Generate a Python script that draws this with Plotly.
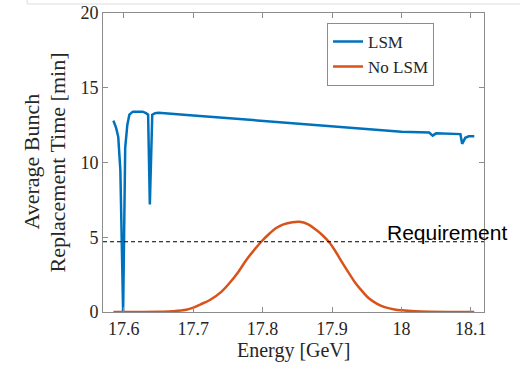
import plotly.graph_objects as go

# LSM series
lsm_energy = [17.585, 17.589, 17.592, 17.595, 17.599, 17.602, 17.605, 17.608, 17.613,
              17.620, 17.627, 17.632, 17.635, 17.6375, 17.641, 17.645, 17.650,
              17.700, 17.800, 17.900, 18.000, 18.040, 18.045, 18.050, 18.080,
              18.085, 18.0875, 18.092, 18.097, 18.105]
lsm_time = [12.8, 12.3, 11.7, 9.5, 0.0, 11.0, 12.5, 13.2, 13.4,
            13.42, 13.4, 13.3, 13.2, 7.2, 13.2, 13.3, 13.32,
            13.15, 12.8, 12.4, 12.05, 12.0, 11.8, 11.95, 11.9,
            11.9, 11.25, 11.65, 11.75, 11.75]

# No LSM series
nolsm_energy = [17.585, 17.62, 17.65, 17.67, 17.69, 17.70, 17.71, 17.724, 17.74, 17.752,
                17.765, 17.776, 17.787, 17.798, 17.81, 17.819, 17.83, 17.843, 17.853,
                17.865, 17.877, 17.887, 17.896, 17.906, 17.915, 17.925, 17.934, 17.944,
                17.953, 17.965, 17.977, 17.99, 18.001, 18.02, 18.04, 18.07, 18.105]
nolsm_time = [0.0, 0.0, 0.01, 0.05, 0.15, 0.29, 0.50, 0.80, 1.33, 1.92,
              2.68, 3.45, 4.1, 4.70, 5.25, 5.60, 5.86, 6.0, 6.03,
              5.88, 5.50, 5.1, 4.66, 3.98, 3.28, 2.55, 1.92, 1.36,
              0.92, 0.55, 0.31, 0.17, 0.11, 0.05, 0.02, 0.0, 0.0]

requirement = 4.7
x_ticks = [17.6, 17.7, 17.8, 17.9, 18.0, 18.1]
x_ticklabels = ["17.6", "17.7", "17.8", "17.9", "18", "18.1"]
y_ticks = [0, 5, 10, 15, 20]

serif = "Liberation Serif, Times New Roman, serif"
txt = "#262626"

fig = go.Figure()
fig.add_trace(go.Scatter(x=lsm_energy, y=lsm_time, mode="lines", name="LSM",
                         line=dict(color="#0072BD", width=2.5)))
fig.add_trace(go.Scatter(x=nolsm_energy, y=nolsm_time, mode="lines", name="No LSM",
                         line=dict(color="#D95319", width=2.5, shape="spline", smoothing=1.0)))

fig.add_shape(type="line", xref="paper", x0=0, x1=1, yref="y", y0=requirement, y1=requirement,
              line=dict(color="black", width=1, dash="4px,3px"), layer="above")
# screenshot frame line at top
fig.add_shape(type="line", xref="paper", yref="paper", x0=-0.199, x1=1.094, y0=1.030, y1=1.030,
              line=dict(color="#dcdcdc", width=1))
fig.add_shape(type="line", xref="paper", yref="paper", x0=-0.199, x1=-0.199, y0=1.030, y1=1.05,
              line=dict(color="#dcdcdc", width=1))

fig.add_annotation(text="Requirement", xref="paper", x=0.740, xanchor="left",
                   yref="y", y=requirement, yanchor="bottom", yshift=-4, showarrow=False,
                   font=dict(family="Liberation Sans, Arial, sans-serif", size=21, color="black"))

fig.add_annotation(text="Average Bunch", xref="paper", x=-0.1864,
                   xanchor="center", yref="paper", y=0.503, yanchor="middle", textangle=-90,
                   showarrow=False, font=dict(family=serif, size=22, color=txt))
fig.add_annotation(text="Replacement Time [min]", xref="paper", x=-0.1207,
                   xanchor="center", yref="paper", y=0.5, yanchor="middle", textangle=-90,
                   showarrow=False, font=dict(family=serif, size=22, color=txt))
fig.add_annotation(text="Energy [GeV]", xref="paper", x=0.5, xanchor="center",
                   yref="paper", y=-0.130, yanchor="middle", showarrow=False,
                   font=dict(family=serif, size=20, color=txt))

axis_common = dict(showgrid=False, zeroline=False, showline=True, linecolor="#8c8c8c",
                   linewidth=1, mirror="ticks", ticks="inside", ticklen=5, tickcolor="#8c8c8c",
                   automargin=False,
                   tickfont=dict(family=serif, size=18, color=txt))

fig.update_layout(
    width=525, height=367,
    margin=dict(l=103, r=41, t=13, b=55, autoexpand=False),
    paper_bgcolor="white", plot_bgcolor="white",
    showlegend=True,
    legend=dict(x=0.588, y=0.967, xanchor="left", yanchor="top",
                bgcolor="white", bordercolor="#8c8c8c", borderwidth=1,
                font=dict(family=serif, size=17, color=txt),
                tracegroupgap=0, itemwidth=30),
    xaxis=dict(range=[17.57, 18.119], tickvals=x_ticks, ticktext=x_ticklabels, **axis_common),
    yaxis=dict(range=[0, 20], tickvals=y_ticks, **axis_common),
)

fig.write_html("out.html", config={"displayModeBar": False},
               post_script="document.body.style.margin='0px';")
